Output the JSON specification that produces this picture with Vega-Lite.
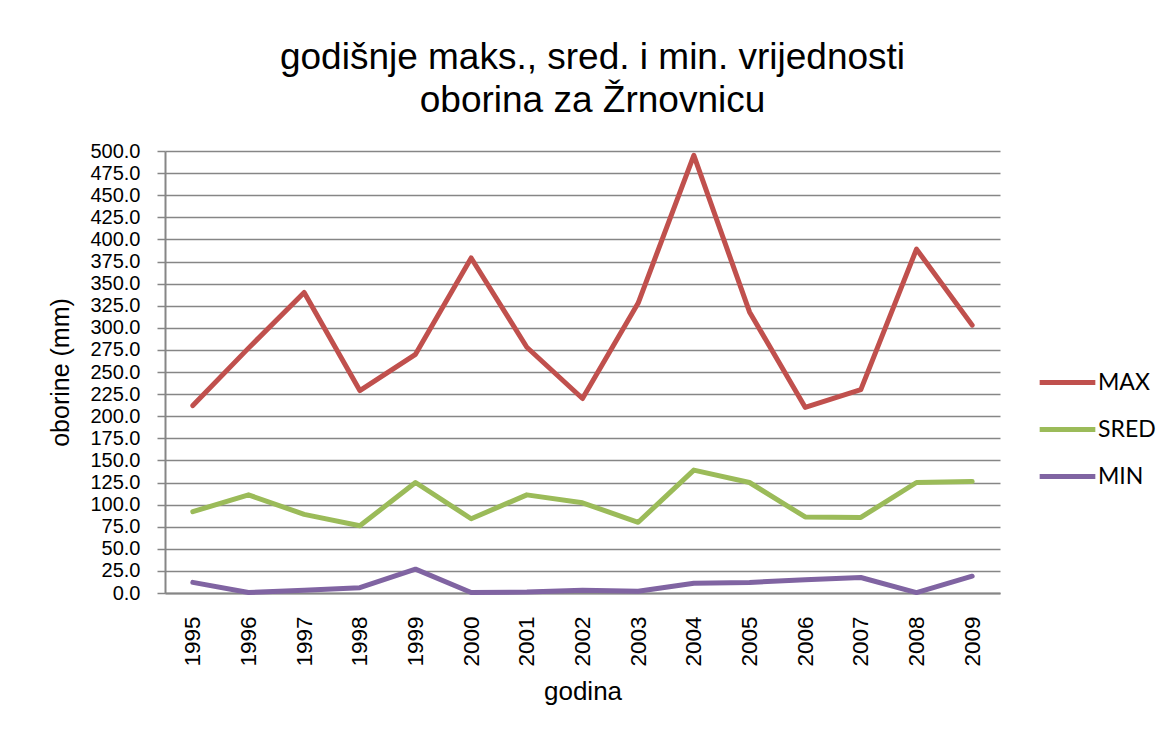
{
  "$schema": "https://vega.github.io/schema/vega-lite/v6.json",
  "autosize": {"type": "none"},
  "width": 835,
  "height": 442,
  "padding": {"left": 165, "top": 151, "right": 168, "bottom": 136},
  "background": "white",
  "title": {
    "text": ["godišnje maks., sred. i min. vrijednosti", "oborina za Žrnovnicu"],
    "font": "Liberation Sans",
    "fontSize": 37,
    "fontWeight": "normal",
    "color": "#000000",
    "anchor": "middle",
    "frame": "group",
    "dx": 10,
    "offset": 21,
    "lineHeight": 43
  },
  "data": {
    "values": [
      {"godina": "1995", "serija": "MAX", "oborine": 212},
      {"godina": "1996", "serija": "MAX", "oborine": 277},
      {"godina": "1997", "serija": "MAX", "oborine": 340},
      {"godina": "1998", "serija": "MAX", "oborine": 229},
      {"godina": "1999", "serija": "MAX", "oborine": 270},
      {"godina": "2000", "serija": "MAX", "oborine": 379},
      {"godina": "2001", "serija": "MAX", "oborine": 278},
      {"godina": "2002", "serija": "MAX", "oborine": 220},
      {"godina": "2003", "serija": "MAX", "oborine": 328},
      {"godina": "2004", "serija": "MAX", "oborine": 495},
      {"godina": "2005", "serija": "MAX", "oborine": 318},
      {"godina": "2006", "serija": "MAX", "oborine": 210},
      {"godina": "2007", "serija": "MAX", "oborine": 230},
      {"godina": "2008", "serija": "MAX", "oborine": 389},
      {"godina": "2009", "serija": "MAX", "oborine": 303},
      {"godina": "1995", "serija": "SRED", "oborine": 92},
      {"godina": "1996", "serija": "SRED", "oborine": 111},
      {"godina": "1997", "serija": "SRED", "oborine": 89},
      {"godina": "1998", "serija": "SRED", "oborine": 76},
      {"godina": "1999", "serija": "SRED", "oborine": 125},
      {"godina": "2000", "serija": "SRED", "oborine": 84},
      {"godina": "2001", "serija": "SRED", "oborine": 111},
      {"godina": "2002", "serija": "SRED", "oborine": 102},
      {"godina": "2003", "serija": "SRED", "oborine": 80},
      {"godina": "2004", "serija": "SRED", "oborine": 139},
      {"godina": "2005", "serija": "SRED", "oborine": 125},
      {"godina": "2006", "serija": "SRED", "oborine": 86},
      {"godina": "2007", "serija": "SRED", "oborine": 85.5},
      {"godina": "2008", "serija": "SRED", "oborine": 125},
      {"godina": "2009", "serija": "SRED", "oborine": 126},
      {"godina": "1995", "serija": "MIN", "oborine": 12},
      {"godina": "1996", "serija": "MIN", "oborine": 0.5},
      {"godina": "1997", "serija": "MIN", "oborine": 3},
      {"godina": "1998", "serija": "MIN", "oborine": 6},
      {"godina": "1999", "serija": "MIN", "oborine": 27},
      {"godina": "2000", "serija": "MIN", "oborine": 0.5},
      {"godina": "2001", "serija": "MIN", "oborine": 1},
      {"godina": "2002", "serija": "MIN", "oborine": 3},
      {"godina": "2003", "serija": "MIN", "oborine": 2},
      {"godina": "2004", "serija": "MIN", "oborine": 11},
      {"godina": "2005", "serija": "MIN", "oborine": 12},
      {"godina": "2006", "serija": "MIN", "oborine": 15},
      {"godina": "2007", "serija": "MIN", "oborine": 17.5},
      {"godina": "2008", "serija": "MIN", "oborine": 0.5},
      {"godina": "2009", "serija": "MIN", "oborine": 19}
    ]
  },
  "mark": {"type": "line", "strokeWidth": 5, "strokeCap": "round", "strokeJoin": "round"},
  "encoding": {
    "x": {
      "field": "godina",
      "type": "ordinal",
      "scale": {"type": "point", "padding": 0.5},
      "axis": {
        "title": "godina",
        "titleFont": "Liberation Sans",
        "titleFontSize": 26,
        "titleFontWeight": "normal",
        "titleColor": "#000000",
        "titlePadding": 12,
        "labelAngle": 270,
        "labelFont": "Liberation Sans",
        "labelFontSize": 22.5,
        "labelColor": "#000000",
        "labelPadding": 23,
        "ticks": false,
        "domainColor": "#868686",
        "domainWidth": 2,
        "grid": false
      }
    },
    "y": {
      "field": "oborine",
      "type": "quantitative",
      "scale": {"domain": [0, 500], "nice": false},
      "axis": {
        "title": "oborine (mm)",
        "titleFont": "Liberation Sans",
        "titleFontSize": 25,
        "titleFontWeight": "normal",
        "titleColor": "#000000",
        "titlePadding": 16,
        "values": [0, 25, 50, 75, 100, 125, 150, 175, 200, 225, 250, 275, 300, 325, 350, 375, 400, 425, 450, 475, 500],
        "format": ".1f",
        "labelFont": "Liberation Sans",
        "labelFontSize": 20,
        "labelColor": "#000000",
        "labelPadding": 17,
        "labelOverlap": false,
        "labelBound": false,
        "tickSize": 8,
        "tickColor": "#868686",
        "tickWidth": 1.5,
        "domainColor": "#868686",
        "domainWidth": 2,
        "grid": true,
        "gridColor": "#868686",
        "gridWidth": 1.5
      }
    },
    "color": {
      "field": "serija",
      "type": "nominal",
      "sort": ["MAX", "SRED", "MIN"],
      "scale": {"domain": ["MAX", "SRED", "MIN"], "range": ["#C0504D", "#9BBB59", "#8064A2"]},
      "legend": {
        "title": null,
        "orient": "none",
        "legendX": 872,
        "legendY": 201,
        "symbolType": "stroke",
        "symbolSize": 3100,
        "symbolStrokeWidth": 5,
        "labelFont": "Lato",
        "labelFontSize": 23,
        "labelColor": "#000000",
        "labelOffset": 0,
        "rowPadding": 4
      }
    }
  },
  "config": {
    "view": {"stroke": null}
  }
}
